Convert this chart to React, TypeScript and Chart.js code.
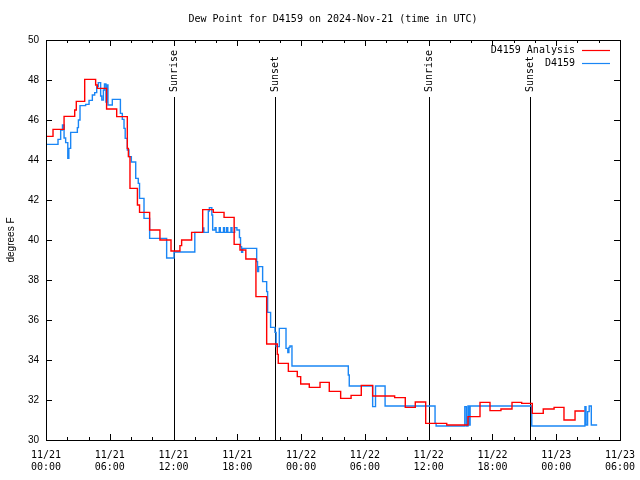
import React, { useEffect, useRef } from 'react';
import { Chart, registerables } from 'chart.js';

Chart.register(...registerables);

const TITLE = 'Dew Point for D4159 on 2024-Nov-21 (time in UTC)';
const Y_TITLE = 'degrees F';
const SERIES_NAMES = ['D4159 Analysis', 'D4159'];
const SERIES_COLORS = ['#ff0000', '#1a86f5'];

const X_MIN = 0;
const X_MAX = 54;
const X_TICK_HOURS = [0, 6, 12, 18, 24, 30, 36, 42, 48, 54];
const X_MINOR_STEP = 2;
const X_TICK_DATES = ['11/21', '11/21', '11/21', '11/21', '11/22', '11/22', '11/22', '11/22', '11/23', '11/23'];
const X_TICK_TIMES = ['00:00', '06:00', '12:00', '18:00', '00:00', '06:00', '12:00', '18:00', '00:00', '06:00'];
const Y_TICKS = [30, 32, 34, 36, 38, 40, 42, 44, 46, 48, 50];

const SUN_EVENT_HOURS = [12.07, 21.57, 36.07, 45.57];
const SUN_EVENT_LABELS = ['Sunrise', 'Sunset', 'Sunrise', 'Sunset'];

// D4159 Analysis (hours since 11/21 00:00 UTC, dew point °F)
const analysisHours = [
  0, 0.66, 1.7, 2.7, 2.85, 3.64, 4.67, 4.83, 5.7, 6.65,
  7.65, 7.75, 7.9, 8.6, 8.8, 9.75, 10.72, 11.76, 12.6, 12.76,
  13.7, 14.74, 15.74, 16.75, 17.7, 18.25, 18.8, 19.75, 20.76, 21.76,
  21.85, 22.8, 23.64, 23.96, 24.77, 25.78, 26.65, 27.72, 28.7, 29.66,
  30.73, 32.8, 33.8, 34.74, 35.72, 37.7, 39.7, 40.83, 41.77, 42.8,
  43.84, 44.75, 45.75, 46.78, 47.8, 48.73, 49.77, 50.65,
];
const analysisValues = [
  45.18, 45.53, 46.18, 46.5, 46.93, 48.03, 47.75, 47.58, 46.55, 46.17,
  44.58, 44.17, 42.58, 41.75, 41.38, 40.5, 40.0, 39.45, 39.72, 40.0,
  40.38, 41.52, 41.38, 41.13, 39.78, 39.5, 39.05, 37.17, 34.8, 34.28,
  33.83, 33.43, 33.17, 32.8, 32.63, 32.88, 32.43, 32.08, 32.23, 32.73,
  32.2, 32.12, 31.63, 31.9, 30.83, 30.75, 31.17, 31.88, 31.47, 31.55,
  31.88, 31.83, 31.33, 31.55, 31.63, 31.0, 31.45, 31.45,
];

// D4159 station observations
const stationHours = [
  0, 1.13, 1.38, 1.55, 1.7, 1.85, 2.05, 2.15, 2.32, 2.95,
  3.05, 3.2, 3.73, 4.05, 4.36, 4.58, 4.77, 4.92, 5.14, 5.25,
  5.4, 5.5, 5.64, 5.72, 5.83, 6.24, 7.0, 7.18, 7.34, 7.45,
  7.65, 7.8, 8.03, 8.44, 8.68, 8.8, 9.22, 9.75, 11.35, 12.04,
  14.0, 14.74, 14.85, 15.27, 15.37, 15.6, 15.68, 15.9, 16.0, 16.3,
  16.4, 16.7, 16.8, 17.0, 17.1, 17.4, 17.5, 17.75, 17.96, 18.2,
  18.3, 18.4, 18.5, 19.82, 19.9, 20.0, 20.38, 20.76, 20.85, 21.13,
  21.54, 21.65, 21.95, 22.58, 22.75, 22.85, 22.95, 23.14, 28.44, 28.53,
  30.73, 31.0, 31.9, 36.6, 36.7, 39.4, 39.55, 39.7, 39.8, 39.9,
  45.7, 50.7, 50.8, 50.95, 51.1, 51.3, 51.85,
];
const stationValues = [
  44.78, 45.03, 45.5, 45.75, 45.1, 44.87, 44.08, 44.58, 45.38, 45.62,
  46.0, 46.72, 46.78, 46.98, 47.25, 47.37, 47.67, 47.87, 47.2, 47.0,
  47.5, 47.8, 46.9, 47.75, 46.75, 47.03, 46.33, 46.03, 45.58, 45.08,
  44.5, 44.17, 43.9, 43.08, 42.83, 42.08, 41.08, 40.08, 39.1, 39.4,
  40.38, 40.6, 40.38, 41.45, 41.62, 41.25, 40.5, 40.62, 40.38, 40.62,
  40.38, 40.62, 40.38, 40.62, 40.38, 40.62, 40.38, 40.62, 40.5, 40.12,
  39.67, 39.38, 39.58, 38.92, 38.42, 38.67, 37.92, 37.42, 36.38, 35.63,
  35.38, 34.67, 35.58, 34.58, 34.37, 34.63, 34.7, 33.7, 33.25, 32.7,
  31.67, 32.7, 31.7, 30.83, 30.7, 31.67, 30.7, 31.7, 30.75, 31.7,
  30.7, 31.67, 30.75, 31.42, 31.7, 30.75, 30.75,
];

const MONO = '"DejaVu Sans Mono", "Liberation Mono", monospace';
const SANS = '"Liberation Sans", Arial, sans-serif';

const framePlugin = {
  id: 'gnuplotFrame',
  beforeDatasetsDraw(chart: any) {
    const { ctx, chartArea, scales } = chart;
    const xs = scales.x;
    ctx.save();
    ctx.strokeStyle = '#000';
    ctx.lineWidth = 1;
    ctx.fillStyle = '#000';
    ctx.font = '10px ' + MONO;
    SUN_EVENT_HOURS.forEach((h, i) => {
      const x = Math.round(xs.getPixelForValue(h)) + 0.5;
      ctx.beginPath();
      ctx.moveTo(x, 97);
      ctx.lineTo(x, chartArea.bottom);
      ctx.stroke();
      ctx.save();
      ctx.translate(x, 92);
      ctx.rotate(-Math.PI / 2);
      ctx.textAlign = 'left';
      ctx.textBaseline = 'middle';
      ctx.fillText(SUN_EVENT_LABELS[i], 0, 0);
      ctx.restore();
    });
    ctx.restore();
  },
  afterDatasetsDraw(chart: any) {
    const { ctx, chartArea, scales } = chart;
    const xs = scales.x;
    const ys = scales.y;
    const { left, right, top, bottom } = chartArea;
    ctx.save();
    ctx.strokeStyle = '#000';
    ctx.lineWidth = 1;
    ctx.beginPath();
    // x ticks (major + minor), bottom and top, pointing inward
    for (let h = X_MIN; h <= X_MAX; h += X_MINOR_STEP) {
      const x = Math.round(xs.getPixelForValue(h)) + 0.5;
      ctx.moveTo(x, bottom);
      ctx.lineTo(x, bottom - 3);
      ctx.moveTo(x, top);
      ctx.lineTo(x, top + 3);
    }
    X_TICK_HOURS.forEach((h) => {
      const x = Math.round(xs.getPixelForValue(h)) + 0.5;
      ctx.moveTo(x, bottom);
      ctx.lineTo(x, bottom - 6);
      ctx.moveTo(x, top);
      ctx.lineTo(x, top + 6);
    });
    Y_TICKS.forEach((v) => {
      const y = Math.round(ys.getPixelForValue(v)) + 0.5;
      ctx.moveTo(left, y);
      ctx.lineTo(left + 6, y);
      ctx.moveTo(right, y);
      ctx.lineTo(right - 6, y);
    });
    ctx.stroke();
    ctx.strokeRect(Math.round(left) + 0.5, Math.round(top) + 0.5, Math.round(right - left), Math.round(bottom - top));

    // title
    ctx.fillStyle = '#000';
    ctx.font = '10px ' + MONO;
    ctx.textAlign = 'center';
    ctx.textBaseline = 'middle';
    ctx.fillText(TITLE, (left + right) / 2, 19);

    // legend
    ctx.textAlign = 'right';
    SERIES_NAMES.forEach((name, i) => {
      const y = 50 + i * 13;
      ctx.fillStyle = '#000';
      ctx.fillText(name, 575, y);
      ctx.strokeStyle = SERIES_COLORS[i];
      ctx.lineWidth = 1.2;
      ctx.beginPath();
      ctx.moveTo(582, Math.round(y) + 0.5);
      ctx.lineTo(610, Math.round(y) + 0.5);
      ctx.stroke();
    });

    // y axis title
    ctx.fillStyle = '#000';
    ctx.font = '10px ' + SANS;
    ctx.save();
    ctx.translate(11, (top + bottom) / 2);
    ctx.rotate(-Math.PI / 2);
    ctx.textAlign = 'center';
    ctx.textBaseline = 'middle';
    ctx.fillText(Y_TITLE, 0, 0);
    ctx.restore();
    ctx.restore();
  },
};

export default function App() {
  const canvasRef = useRef<HTMLCanvasElement | null>(null);

  useEffect(() => {
    document.body.style.margin = '0';
    const canvas = canvasRef.current;
    if (!canvas) return;
    const analysisData = analysisHours.map((h, i) => ({ x: h, y: analysisValues[i] }));
    const stationData = stationHours.map((h, i) => ({ x: h, y: stationValues[i] }));

    const chart = new Chart(canvas, {
      type: 'line',
      data: {
        datasets: [
          {
            label: SERIES_NAMES[0],
            data: analysisData,
            borderColor: SERIES_COLORS[0],
            borderWidth: 1.4,
            stepped: true,
            pointRadius: 0,
            fill: false,
          },
          {
            label: SERIES_NAMES[1],
            data: stationData,
            borderColor: SERIES_COLORS[1],
            borderWidth: 1.4,
            stepped: true,
            pointRadius: 0,
            fill: false,
          },
        ],
      },
      options: {
        animation: false,
        responsive: false,
        maintainAspectRatio: false,
        layout: { padding: { left: 0, right: 20, top: 40, bottom: 0 } },
        plugins: {
          legend: { display: false },
          title: { display: false },
          tooltip: { enabled: false },
        },
        scales: {
          x: {
            type: 'linear',
            min: X_MIN,
            max: X_MAX,
            afterBuildTicks: (s: any) => {
              s.ticks = X_TICK_HOURS.map((v) => ({ value: v }));
            },
            afterFit: (s: any) => {
              s.height = 40;
              s.paddingLeft = 0;
              s.paddingRight = 0;
            },
            ticks: {
              autoSkip: false,
              maxRotation: 0,
              minRotation: 0,
              padding: 9,
              color: '#000',
              font: { family: MONO, size: 10, lineHeight: 1.25 },
              callback: (_v: any, i: number) => [X_TICK_DATES[i], X_TICK_TIMES[i]],
            },
            grid: { display: false, drawTicks: false },
            border: { display: false },
          },
          y: {
            type: 'linear',
            min: 30,
            max: 50,
            afterBuildTicks: (s: any) => {
              s.ticks = Y_TICKS.map((v) => ({ value: v }));
            },
            afterFit: (s: any) => {
              s.width = 46;
              s.paddingTop = 0;
              s.paddingBottom = 0;
            },
            ticks: {
              padding: 7,
              color: '#000',
              font: { family: SANS, size: 10 },
              callback: (v: any) => String(v),
            },
            grid: { display: false, drawTicks: false },
            border: { display: false },
          },
        },
      },
      plugins: [framePlugin],
    } as any);

    return () => {
      chart.destroy();
    };
  }, []);

  return (
    <div style={{ width: 640, height: 480, background: '#fff' }}>
      <canvas ref={canvasRef} width={640} height={480} style={{ display: 'block' }} />
    </div>
  );
}
